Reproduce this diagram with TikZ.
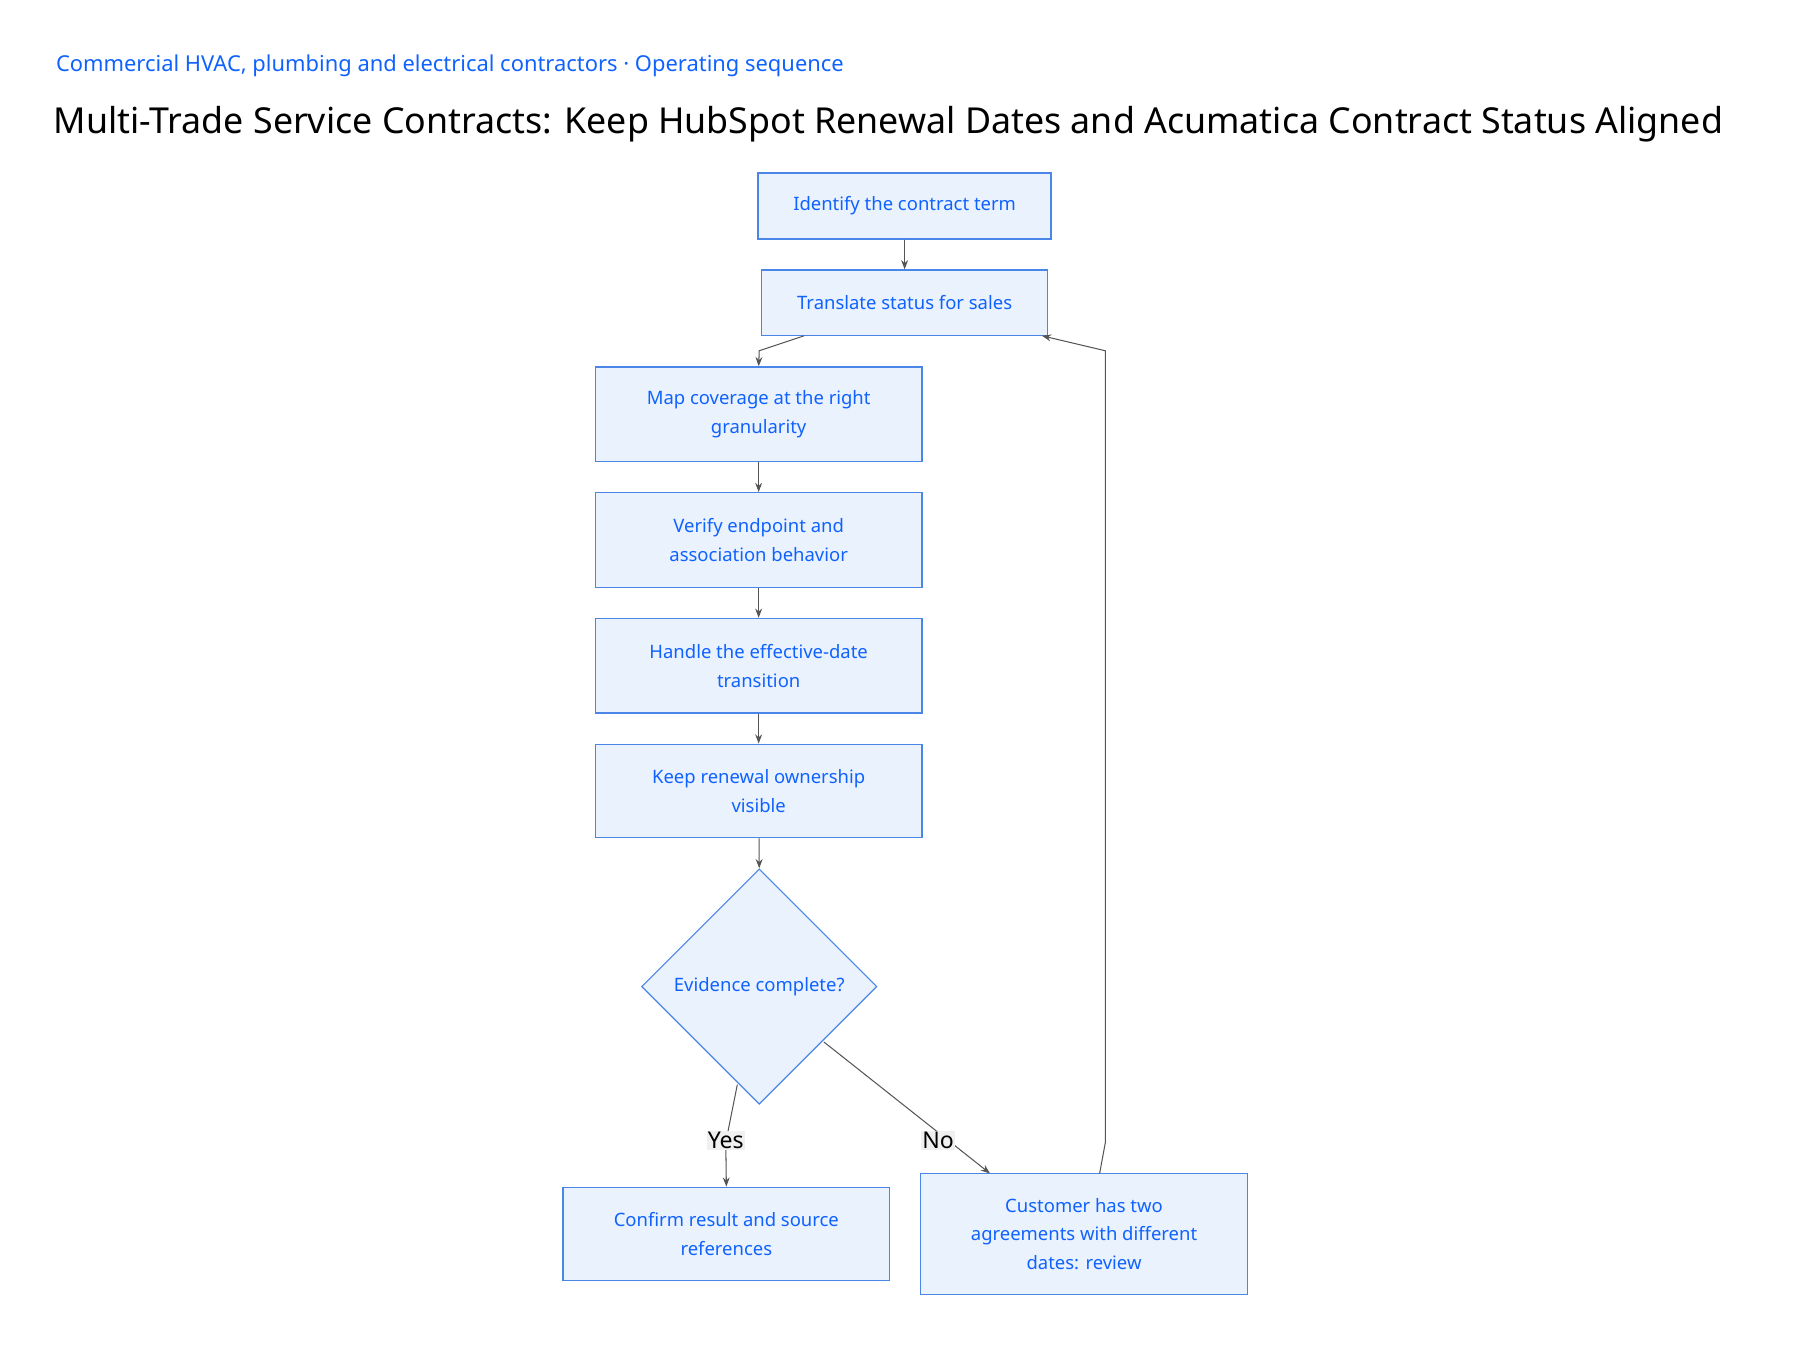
\documentclass[tikz,border=0pt]{standalone}
\usepackage{fontspec}
\setmainfont{Noto Sans}
\usetikzlibrary{shapes.geometric,arrows.meta}
\definecolor{tblue}{HTML}{0F62FE}
\definecolor{bfill}{HTML}{EAF2FE}
\definecolor{bdraw}{HTML}{4A86E8}
\definecolor{edge}{HTML}{555555}
\tikzset{
  stepbox/.style={draw=bdraw,fill=bfill,line width=1.2pt,text=tblue,font=\fontsize{16}{25}\selectfont,align=center,inner sep=0pt},
  conn/.style={draw=edge,line width=0.9pt,-{Stealth[length=8pt,width=6pt]}},
  lbl/.style={fill=gray!12,text=black,font=\fontsize{20}{24}\selectfont,inner sep=1pt}
}
\begin{document}
\begin{tikzpicture}[x=1pt,y=-1pt]
\useasboundingbox (0,0) rectangle (1560,1170);
\node[anchor=west,text=tblue,font=\fontsize{19}{23}\selectfont] (sub) at (45,57) {Commercial HVAC, plumbing and electrical contractors · Operating sequence};
\node[anchor=west,font=\fontsize{31}{36}\selectfont] (title) at (43,108) {Multi-Trade Service Contracts: Keep HubSpot Renewal Dates and Acumatica Contract Status Aligned};
\node[stepbox,minimum width=254pt,minimum height=57pt] (b1) at (784,178.5) {Identify the contract term};
\node[stepbox,minimum width=248pt,minimum height=57pt] (b2) at (784,262.5) {Translate status for sales};
\node[stepbox,minimum width=283pt,minimum height=82pt] (b3) at (657.5,359) {Map coverage at the right\\granularity};
\node[stepbox,minimum width=283pt,minimum height=82pt] (b4) at (657.5,468) {Verify endpoint and\\association behavior};
\node[stepbox,minimum width=283pt,minimum height=82pt] (b5) at (657.5,577) {Handle the effective-date\\transition};
\node[stepbox,minimum width=283pt,minimum height=81pt] (b6) at (657.5,685.5) {Keep renewal ownership\\visible};
\node[stepbox,diamond,minimum width=204pt,minimum height=204pt,line width=1pt] (d) at (658,855) {Evidence complete?};
\node[stepbox,minimum width=283pt,minimum height=81pt] (yes) at (629.5,1069.5) {Confirm result and source\\references};
\node[stepbox,minimum width=283pt,minimum height=105pt] (no) at (939.5,1069.5) {Customer has two\\agreements with different\\dates: review};
\coordinate (c1) at (658,304);
\coordinate (c2) at (958,304);
\coordinate (c3) at (958,990);
\path[conn] (b1) -- (b2);
\path[conn] (697,291) -- (c1) -- (b3.north);
\path[conn] (b3) -- (b4);
\path[conn] (b4) -- (b5);
\path[conn] (b5) -- (b6);
\path[conn] (b6) -- (d.north);
\path[conn] (639,940) -- (629,990) -- (yes.north);
\path[conn] (714,903) -- (858,1017);
\path[conn] (953,1017) -- (c3) -- (c2) -- (903,291);
\node[lbl] (ly) at (629,988) {Yes};
\node[lbl] (ln) at (813,988) {No};
\end{tikzpicture}
\end{document}
